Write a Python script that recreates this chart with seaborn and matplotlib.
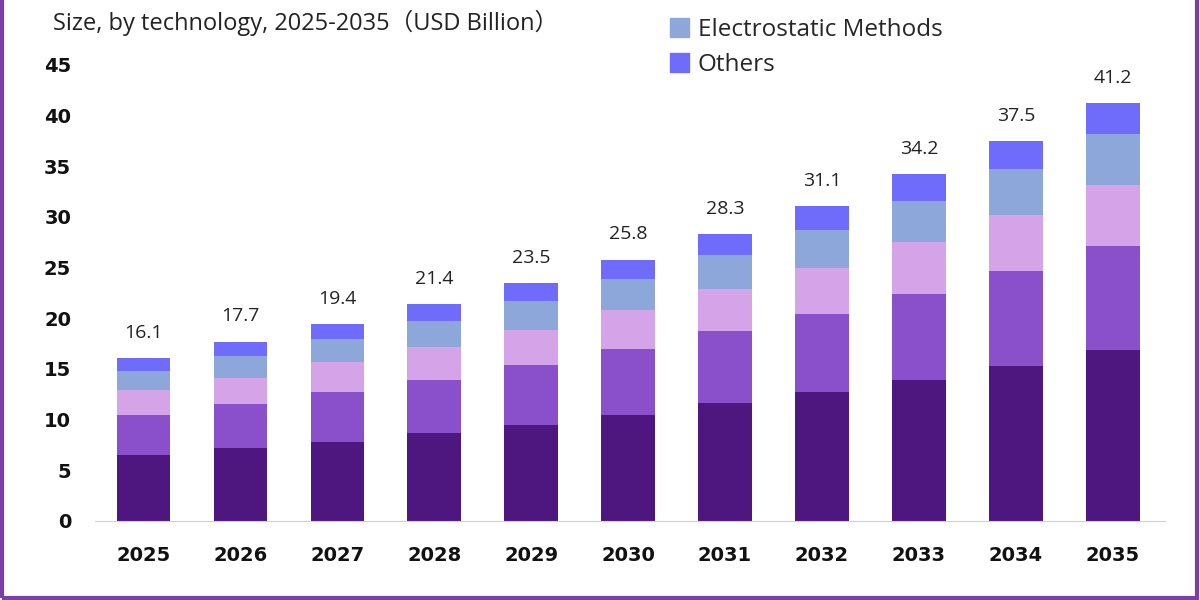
import pandas as pd
import seaborn as sns
import matplotlib.pyplot as plt
from matplotlib.patches import Patch, Rectangle

# data (USD Billion)
years = ["2025", "2026", "2027", "2028", "2029", "2030", "2031", "2032", "2033", "2034", "2035"]
seg1 = [6.5, 7.2, 7.8, 8.7, 9.5, 10.5, 11.6, 12.7, 13.9, 15.3, 16.9]
seg2 = [4.0, 4.35, 4.95, 5.25, 5.85, 6.5, 7.1, 7.7, 8.5, 9.4, 10.2]
seg3 = [2.45, 2.6, 2.9, 3.2, 3.5, 3.8, 4.2, 4.6, 5.1, 5.5, 6.1]
electrostatic = [1.85, 2.1, 2.3, 2.55, 2.85, 3.1, 3.3, 3.7, 4.1, 4.5, 5.0]
others = [1.3, 1.45, 1.45, 1.7, 1.8, 1.9, 2.1, 2.4, 2.6, 2.8, 3.0]
totals = [16.1, 17.7, 19.4, 21.4, 23.5, 25.8, 28.3, 31.1, 34.2, 37.5, 41.2]

series = ["Segment 1", "Segment 2", "Segment 3", "Electrostatic Methods", "Others"]
colors = ["#4E1780", "#8A4FCB", "#D4A3E8", "#8DA7DA", "#6F6BFB"]

df = pd.DataFrame({"year": years, "Segment 1": seg1, "Segment 2": seg2, "Segment 3": seg3,
                   "Electrostatic Methods": electrostatic, "Others": others})

sns.set_style("white")
plt.rcParams["font.family"] = ["Open Sans", "DejaVu Sans"]

fig = plt.figure(figsize=(12, 6), dpi=100)
ax = fig.add_axes([0.079, 0.1317, 0.892, 0.76])

# stacked bars: draw cumulative sums from the top layer down
cum = df[series].cumsum(axis=1)
for name, col in reversed(list(zip(series, colors))):
    sns.barplot(x=df["year"], y=cum[name], color=col, width=0.55, saturation=1,
                ax=ax, edgecolor="none")

# total labels
for i, t in enumerate(totals):
    ax.text(i, t + 1.6, f"{t}", ha="center", va="bottom", fontsize=14, color="#222222")

ax.set_xlim(-0.5, 10.54)
ax.set_ylim(0, 45)
ax.set_yticks(range(0, 46, 5))
ax.set_xlabel("")
ax.set_ylabel("")
sns.despine(ax=ax, left=True)
ax.spines["bottom"].set_color("#d0d0d0")
ax.tick_params(axis="both", length=0, labelsize=14)
ax.tick_params(axis="x", pad=18)
ax.tick_params(axis="y", pad=17)
for lab in ax.get_xticklabels() + ax.get_yticklabels():
    lab.set_fontweight("bold")
    lab.set_family("DejaVu Sans")
    lab.set_color("#111111")

fig.text(0.044, 0.962, "Size, by technology, 2025-2035（USD Billion）", fontsize=17,
         color="#222222", va="center", family=["Open Sans", "Noto Sans CJK SC", "DejaVu Sans"])

handles = [Patch(color=colors[3]), Patch(color=colors[4])]
fig.legend(handles, ["Electrostatic Methods", "Others"], loc="upper left",
           bbox_to_anchor=(0.548, 0.99), frameon=False, fontsize=17.5, borderpad=0,
           labelspacing=0.45, handlelength=0.8, handleheight=0.8, handletextpad=0.35)

# purple frame around the picture
fig.patches.append(Rectangle((0.0015, 0.003), 0.996, 1.05, transform=fig.transFigure,
                             fill=False, edgecolor="#7B3FA8", linewidth=3, clip_on=False))

fig.savefig("out.png", dpi=100)
